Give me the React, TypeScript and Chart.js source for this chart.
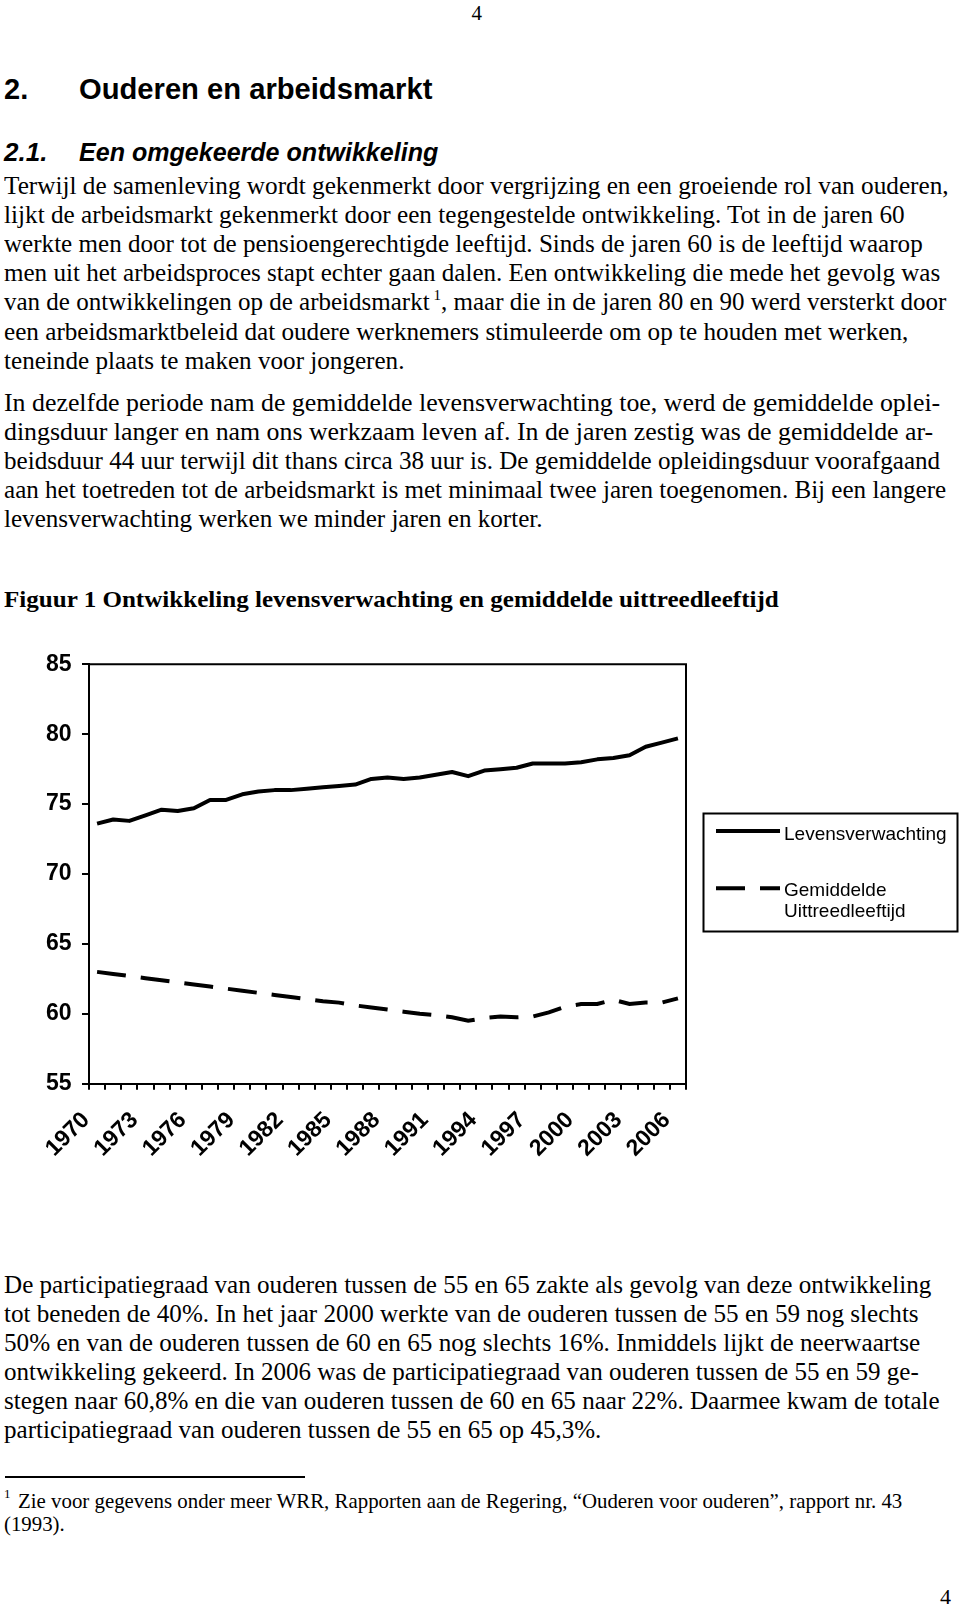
import React, { useEffect, useLayoutEffect, useRef, useState } from "react";
import { Chart, registerables } from "chart.js";

Chart.register(...registerables);

// ---------- chart data ----------
const years = [
  "1970", "1971", "1972", "1973", "1974", "1975", "1976", "1977", "1978", "1979",
  "1980", "1981", "1982", "1983", "1984", "1985", "1986", "1987", "1988", "1989",
  "1990", "1991", "1992", "1993", "1994", "1995", "1996", "1997", "1998", "1999",
  "2000", "2001", "2002", "2003", "2004", "2005", "2006",
];

const lifeExpectancy = [
  73.6, 73.9, 73.8, 74.2, 74.6, 74.5, 74.7, 75.3, 75.3, 75.7,
  75.9, 76.0, 76.0, 76.1, 76.2, 76.3, 76.4, 76.8, 76.9, 76.8,
  76.9, 77.1, 77.3, 77.0, 77.4, 77.5, 77.6, 77.9, 77.9, 77.9,
  78.0, 78.2, 78.3, 78.5, 79.1, 79.4, 79.7,
];

const retirementAge = [
  63.0, 62.85, 62.7, 62.55, 62.4, 62.25, 62.1, 61.95, 61.8, 61.65,
  61.5, 61.35, 61.2, 61.05, 60.9, 60.8, 60.6, 60.45, 60.3, 60.15,
  60.0, 59.9, 59.75, 59.5, 59.7, 59.8, 59.75, 59.8, 60.1, 60.5,
  60.7, 60.7, 61.0, 60.7, 60.8, 60.8, 61.1,
];

const seriesNames = ["Levensverwachting", "Gemiddelde Uittreedleeftijd"];
const yMin = 55;
const yMax = 85;
const yStep = 5;
const labelEvery = 3;

// ---------- page text ----------
const para1 = [
  "Terwijl de samenleving wordt gekenmerkt door vergrijzing en een groeiende rol van ouderen,",
  "lijkt de arbeidsmarkt gekenmerkt door een tegengestelde ontwikkeling. Tot in de jaren 60",
  "werkte men door tot de pensioengerechtigde leeftijd. Sinds de jaren 60 is de leeftijd waarop",
  "men uit het arbeidsproces stapt echter gaan dalen. Een ontwikkeling die mede het gevolg was",
  "van de ontwikkelingen op de arbeidsmarkt|1|, maar die in de jaren 80 en 90 werd versterkt door",
  "een arbeidsmarktbeleid dat oudere werknemers stimuleerde om op te houden met werken,",
  "teneinde plaats te maken voor jongeren.",
];
const para1Right = [949, 905, 923, 940.5, 946, 908, 404];

const para2 = [
  "In dezelfde periode nam de gemiddelde levensverwachting toe, werd de gemiddelde oplei-",
  "dingsduur langer en nam ons werkzaam leven af. In de jaren zestig was de gemiddelde ar-",
  "beidsduur 44 uur terwijl dit thans circa 38 uur is. De gemiddelde opleidingsduur voorafgaand",
  "aan het toetreden tot de arbeidsmarkt is met minimaal twee jaren toegenomen. Bij een langere",
  "levensverwachting werken we minder jaren en korter.",
];
const para2Right = [940, 933, 940, 946, 543];

const para3 = [
  "De participatiegraad van ouderen tussen de 55 en 65 zakte als gevolg van deze ontwikkeling",
  "tot beneden de 40%. In het jaar 2000 werkte van de ouderen tussen de 55 en 59 nog slechts",
  "50% en van de ouderen tussen de 60 en 65 nog slechts 16%. Inmiddels lijkt de neerwaartse",
  "ontwikkeling gekeerd. In 2006 was de participatiegraad van ouderen tussen de 55 en 59 ge-",
  "stegen naar 60,8% en die van ouderen tussen de 60 en 65 naar 22%. Daarmee kwam de totale",
  "participatiegraad van ouderen tussen de 55 en 65 op 45,3%.",
];
const para3Right = [931, 918.5, 920, 918.5, 940, 601];

const footnote = [
  "Zie voor gegevens onder meer WRR, Rapporten aan de Regering, \u201cOuderen voor ouderen\u201d, rapport nr. 43",
  "(1993).",
];
const footnoteRight = [902.5, 64.5];

const SANS = "'Liberation Sans', Arial, Helvetica, sans-serif";
const SERIF = "'Liberation Serif', 'Times New Roman', Times, serif";

type FitProps = {
  x: number;
  base: number;
  size: number;
  family: string;
  weight?: number | string;
  italic?: boolean;
  right?: number;
  children: React.ReactNode;
};

function FitText({ x, base, size, family, weight = 400, italic = false, right, children }: FitProps) {
  const ref = useRef<HTMLSpanElement>(null);
  const [k, setK] = useState(1);
  useLayoutEffect(() => {
    const measure = () => {
      const el = ref.current;
      if (!el || right === undefined) return;
      const w = el.offsetWidth;
      if (w > 0) setK((right - x) / w);
    };
    measure();
    const f = (document as any).fonts;
    if (f && f.ready) f.ready.then(measure);
  }, [right, x]);
  const asc = family === SERIF ? 0.8375 : 0.8465;
  return (
    <div
      style={{
        position: "absolute",
        left: x,
        top: base - asc * size,
        fontFamily: family,
        fontSize: size,
        lineHeight: `${size}px`,
        fontWeight: weight as any,
        fontStyle: italic ? "italic" : "normal",
        whiteSpace: "nowrap",
        color: "#000",
      }}
    >
      <span
        ref={ref}
        style={{ display: "inline-block", transform: `scaleX(${k})`, transformOrigin: "0 0" }}
      >
        {children}
      </span>
    </div>
  );
}

function renderWithSup(text: string) {
  const parts = text.split("|");
  if (parts.length === 1) return text;
  return (
    <>
      {parts[0]}
      <span style={{ fontSize: 15, position: "relative", top: -10, marginLeft: 4 }}>{parts[1]}</span>
      {parts[2]}
    </>
  );
}

function Paragraph({ lines, rights, base, pitch, size }: { lines: string[]; rights: number[]; base: number; pitch: number; size: number }) {
  return (
    <>
      {lines.map((t, i) => (
        <FitText key={i} x={4} base={base + i * pitch} size={size} family={SERIF} right={rights[i]}>
          {renderWithSup(t)}
        </FitText>
      ))}
    </>
  );
}

// ---------- chart plugins ----------
const plotFrame = {
  id: "plotFrame",
  beforeDatasetsDraw(chart: any) {
    const { ctx, chartArea: a } = chart;
    ctx.save();
    ctx.strokeStyle = "#000";
    ctx.lineWidth = 2;
    ctx.beginPath();
    ctx.moveTo(a.left, a.top);
    ctx.lineTo(a.right, a.top);
    ctx.lineTo(a.right, a.bottom);
    ctx.stroke();
    ctx.restore();
  },
};

const boxLegend = {
  id: "boxLegend",
  afterDraw(chart: any) {
    const o = chart.options.plugins.boxLegend;
    const ctx = chart.ctx;
    ctx.save();
    ctx.strokeStyle = "#000";
    ctx.lineWidth = 2;
    ctx.setLineDash([]);
    ctx.strokeRect(o.box[0], o.box[1], o.box[2], o.box[3]);
    chart.data.datasets.forEach((ds: any, i: number) => {
      ctx.beginPath();
      ctx.setLineDash(ds.borderDash || []);
      ctx.lineWidth = ds.borderWidth;
      ctx.strokeStyle = ds.borderColor;
      ctx.moveTo(o.lineX[0], o.lineY[i]);
      ctx.lineTo(o.lineX[1], o.lineY[i]);
      ctx.stroke();
      ctx.setLineDash([]);
      ctx.fillStyle = "#000";
      ctx.font = o.font;
      ctx.textBaseline = "alphabetic";
      ctx.textAlign = "left";
      String(ds.label)
        .split(" ")
        .forEach((t: string, j: number) => ctx.fillText(t, o.textX, o.textY[i] + j * o.lineGap));
    });
    ctx.restore();
  },
};

function LineChart() {
  const ref = useRef<HTMLCanvasElement>(null);
  useEffect(() => {
    if (!ref.current) return;
    const tickFont = { family: SANS, size: 23, weight: "bold" as const };
    const chart = new Chart(ref.current, {
      type: "line",
      data: {
        labels: years,
        datasets: [
          {
            label: seriesNames[0],
            data: lifeExpectancy,
            borderColor: "#000",
            borderWidth: 4,
            pointRadius: 0,
            fill: false,
            tension: 0,
            borderJoinStyle: "round",
          },
          {
            label: seriesNames[1],
            data: retirementAge,
            borderColor: "#000",
            borderWidth: 4,
            borderDash: [29, 15],
            pointRadius: 0,
            fill: false,
            tension: 0,
          },
        ],
      },
      options: {
        animation: false,
        responsive: false,
        devicePixelRatio: 1,
        events: [],
        layout: { padding: { left: 0, right: 274, top: 22.7, bottom: 0 } },
        plugins: {
          legend: { display: false },
          tooltip: { enabled: false },
          boxLegend: {
            box: [703.5, 173.5, 254, 118],
            lineX: [716, 780],
            lineY: [191, 248.3],
            textX: 784,
            textY: [200, 256],
            lineGap: 21.3,
            font: `19px ${SANS}`,
          },
        } as any,
        scales: {
          x: {
            type: "category",
            offset: true,
            grid: {
              display: true,
              drawOnChartArea: false,
              drawTicks: true,
              tickLength: 6,
              offset: true,
              color: "#000",
              lineWidth: 2,
            },
            border: { display: true, color: "#000", width: 2 },
            ticks: {
              autoSkip: false,
              minRotation: 45,
              maxRotation: 45,
              padding: 17,
              labelOffset: -11,
              color: "#000",
              font: tickFont,
              callback: function (this: any, v: any, i: number) {
                return i % labelEvery === 0 ? years[i] : "";
              },
            },
            afterFit: (s: any) => {
              s.height = 116.3;
            },
          },
          y: {
            min: yMin,
            max: yMax,
            grid: {
              display: true,
              drawOnChartArea: false,
              drawTicks: true,
              tickLength: 7,
              color: "#000",
              lineWidth: 2,
            },
            border: { display: true, color: "#000", width: 2 },
            ticks: { stepSize: yStep, padding: 10.5, color: "#000", font: tickFont },
            afterFit: (s: any) => {
              s.width = 89;
            },
          },
        },
      },
      plugins: [plotFrame, boxLegend],
    });
    return () => chart.destroy();
  }, []);
  return (
    <div style={{ position: "absolute", left: 0, top: 640, width: 960, height: 560 }}>
      <canvas ref={ref} width={960} height={560} style={{ width: 960, height: 560, display: "block" }} />
    </div>
  );
}

export default function App() {
  return (
    <div style={{ position: "relative", width: 960, height: 1607, overflow: "hidden", background: "#fff" }}>
      <style>{`html,body{margin:0;padding:0;background:#fff;}`}</style>

      {/* page number top */}
      <FitText x={471.5} base={20.5} size={21} family={SERIF}>4</FitText>

      {/* headings */}
      <FitText x={4} base={99.5} size={29} family={SANS} weight={700}>2.</FitText>
      <FitText x={79} base={99.5} size={29} family={SANS} weight={700} right={432}>
        Ouderen en arbeidsmarkt
      </FitText>
      <FitText x={4} base={161} size={26} family={SANS} weight={700} italic>2.1.</FitText>
      <FitText x={79} base={161} size={26} family={SANS} weight={700} italic right={438.5}>
        Een omgekeerde ontwikkeling
      </FitText>

      <Paragraph lines={para1} rights={para1Right} base={194} pitch={29.1} size={25} />
      <Paragraph lines={para2} rights={para2Right} base={410.5} pitch={29} size={25} />

      <FitText x={4} base={607.5} size={24} family={SERIF} weight={700} right={779}>
        Figuur 1 Ontwikkeling levensverwachting en gemiddelde uittreedleeftijd
      </FitText>

      <LineChart />

      <Paragraph lines={para3} rights={para3Right} base={1293} pitch={29} size={25} />

      {/* footnote rule */}
      <div style={{ position: "absolute", left: 5, top: 1476, width: 300, height: 1.5, background: "#000" }} />

      <FitText x={4} base={1498} size={13} family={SERIF}>1</FitText>
      <FitText x={18.3} base={1508.5} size={21} family={SERIF} right={footnoteRight[0]}>
        {footnote[0]}
      </FitText>
      <FitText x={4} base={1532} size={21} family={SERIF} right={footnoteRight[1]}>
        {footnote[1]}
      </FitText>

      {/* page number bottom */}
      <FitText x={940} base={1604} size={22} family={SERIF}>4</FitText>
    </div>
  );
}
